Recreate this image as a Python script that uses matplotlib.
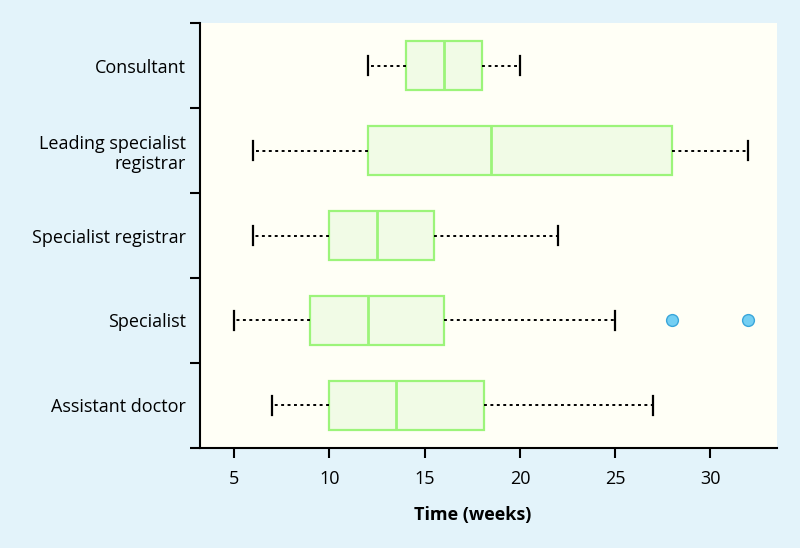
import numpy as np
import matplotlib.pyplot as plt

plt.rcParams['font.family'] = ['Open Sans', 'DejaVu Sans']

groups = ['Consultant', 'Leading specialist\nregistrar', 'Specialist registrar',
          'Specialist', 'Assistant doctor']
whislo = [12, 6, 6, 5, 7]
q1 = [14, 12, 10, 9, 10]
med = [16, 18.5, 12.5, 12, 13.5]
q3 = [18, 28, 15.5, 16, 18.1]
whishi = [20, 32, 22, 25, 27]
fliers = [[], [], [], [28, 32], []]
xticks = [5, 10, 15, 20, 25, 30]

stats = []
for i in range(len(groups)):
    stats.append({'label': groups[i], 'whislo': whislo[i], 'q1': q1[i], 'med': med[i],
                  'q3': q3[i], 'whishi': whishi[i], 'fliers': fliers[i]})

green = '#9CF47A'
fig = plt.figure(figsize=(8, 5.48), dpi=100)
fig.patch.set_facecolor('#E3F3FA')
ax = fig.add_axes([0.25, 0.1825, 0.72125, 0.7755])
ax.set_facecolor('#FFFFF6')

pos = np.arange(len(groups), 0, -1)
ax.bxp(stats, positions=pos, orientation='horizontal', widths=0.57, capwidths=0.22,
       patch_artist=True, showfliers=True,
       boxprops=dict(facecolor='#F1FBE6', edgecolor=green, linewidth=1.6),
       medianprops=dict(color=green, linewidth=2),
       whiskerprops=dict(color='black', linestyle=(0, (1.5, 1.8)), linewidth=1.4),
       capprops=dict(color='black', linewidth=1.6),
       flierprops=dict(marker='o', markersize=8.5, markerfacecolor='#74CFF3',
                       markeredgecolor='#3AA6DA', markeredgewidth=1.0))

ax.set_xlim(3.2, 33.5)
ax.set_ylim(0.5, len(groups) + 0.5)
ax.set_xticks(xticks)
ax.set_xticklabels([str(t) for t in xticks], fontsize=13)
ax.set_yticks(np.arange(0.5, len(groups) + 1, 1))
ax.set_yticklabels([])
ax.set_yticks(pos, minor=True)
ax.set_yticklabels(groups, minor=True, fontsize=13, ha='right', multialignment='right')
ax.tick_params(axis='y', which='minor', length=0, pad=10)
ax.tick_params(axis='y', which='major', length=7, width=1.5, direction='out')
ax.tick_params(axis='x', length=7, width=1.5, direction='out', pad=9)
for s in ['top', 'right']:
    ax.spines[s].set_visible(False)
for s in ['left', 'bottom']:
    ax.spines[s].set_linewidth(1.5)
ax.set_xlabel('Time (weeks)', fontsize=13, fontweight='bold')
ax.xaxis.set_label_coords(0.473, -0.158)
ax.xaxis.label.set_va('center')

plt.savefig('out.png', dpi=100, facecolor=fig.get_facecolor())
